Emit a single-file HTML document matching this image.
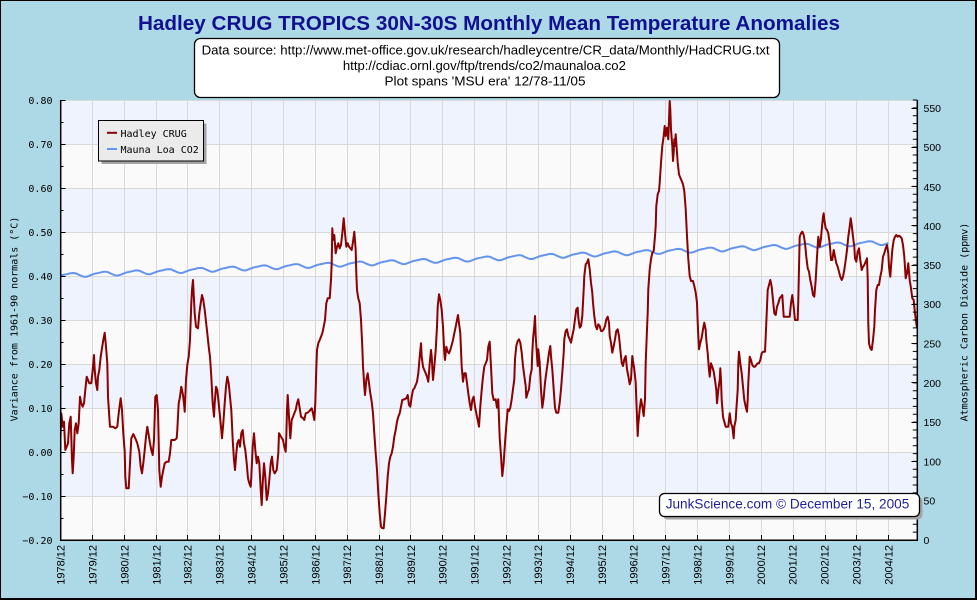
<!DOCTYPE html>
<html>
<head>
<meta charset="utf-8">
<style>
html,body{margin:0;padding:0;background:#add8e6;}
body{width:977px;height:600px;overflow:hidden;}
svg{display:block;}
.mono{font-family:"DejaVu Sans Mono","Liberation Mono",monospace;font-size:10px;fill:#000;}
.sans{font-family:"Liberation Sans",Arial,sans-serif;}
</style>
</head>
<body>
<svg width="977" height="600" viewBox="0 0 977 600" xmlns="http://www.w3.org/2000/svg">
<defs>
<clipPath id="plot"><rect x="60" y="99" width="857" height="441"/></clipPath>
</defs>
<!-- background & border -->
<rect x="0" y="0" width="977" height="600" fill="#add8e6"/>
<path d="M0.5,600 V0.5 H976" fill="none" stroke="#000" stroke-width="1"/>
<path d="M976,0 V599 H0" fill="none" stroke="#000" stroke-width="2"/>

<!-- title -->
<text class="sans" x="489" y="30" text-anchor="middle" font-size="20" font-weight="bold" fill="#101090" textLength="702" lengthAdjust="spacingAndGlyphs">Hadley CRUG TROPICS 30N-30S Monthly Mean Temperature Anomalies</text>

<!-- subtitle box -->
<rect x="194.5" y="38.5" width="585" height="59" rx="6" ry="6" fill="#fff" stroke="#000" stroke-width="1.3"/>
<text class="sans" x="485.6" y="54.5" text-anchor="middle" font-size="12.5" fill="#000" textLength="568" lengthAdjust="spacingAndGlyphs">Data source: http://www.met-office.gov.uk/research/hadleycentre/CR_data/Monthly/HadCRUG.txt</text>
<text class="sans" x="484.4" y="70" text-anchor="middle" font-size="12.5" fill="#000" textLength="283" lengthAdjust="spacingAndGlyphs">http://cdiac.ornl.gov/ftp/trends/co2/maunaloa.co2</text>
<text class="sans" x="485" y="85.5" text-anchor="middle" font-size="12.5" fill="#000" textLength="201" lengthAdjust="spacingAndGlyphs">Plot spans 'MSU era' 12/78-11/05</text>

<!-- plot bands -->
<rect x="60" y="100" width="857" height="440" fill="#fafafa"/>
<g fill="#eef3fd">
<rect x="60" y="100" width="857" height="44"/>
<rect x="60" y="188" width="857" height="44"/>
<rect x="60" y="276" width="857" height="44"/>
<rect x="60" y="364" width="857" height="44"/>
<rect x="60" y="452" width="857" height="44"/>
</g>
<!-- grid -->
<g stroke="#d9d9d9" stroke-width="1" fill="none">
<path d="M60,100.5H917M60,144.5H917M60,188.5H917M60,232.5H917M60,276.5H917M60,320.5H917M60,364.5H917M60,408.5H917M60,452.5H917M60,496.5H917"/>
<path d="M92.5,100V540M124.5,100V540M156.5,100V540M187.5,100V540M219.5,100V540M251.5,100V540M283.5,100V540M315.5,100V540M347.5,100V540M379.5,100V540M410.5,100V540M442.5,100V540M474.5,100V540M506.5,100V540M538.5,100V540M570.5,100V540M602.5,100V540M633.5,100V540M665.5,100V540M697.5,100V540M729.5,100V540M761.5,100V540M793.5,100V540M825.5,100V540M856.5,100V540M888.5,100V540"/>
</g>

<!-- CO2 series -->
<g clip-path="url(#plot)">
<path fill="none" stroke="#6495ed" stroke-width="2" stroke-linejoin="round" d="M60,276
l2.655,-0.97 2.655,-0.58 2.655,-0.5 2.655,-0.73 2.655,-0.26 2.655,0.37 2.655,1.31 2.655,1.15 2.655,0.99 2.655,-0.03 2.655,-0.97 2.655,-1.05
l2.655,-0.97 2.655,-0.58 2.655,-0.5 2.655,-0.73 2.655,-0.26 2.655,0.37 2.655,1.31 2.655,1.15 2.655,0.99 2.655,-0.03 2.655,-0.97 2.655,-1.05
l2.655,-0.97 2.655,-0.58 2.655,-0.5 2.655,-0.73 2.655,-0.26 2.655,0.37 2.655,1.31 2.655,1.15 2.655,0.99 2.655,-0.03 2.655,-0.97 2.655,-1.05
l2.655,-0.97 2.655,-0.58 2.655,-0.5 2.655,-0.73 2.655,-0.26 2.655,0.37 2.655,1.31 2.655,1.15 2.655,0.99 2.655,-0.03 2.655,-0.97 2.655,-1.05
l2.655,-0.97 2.655,-0.58 2.655,-0.5 2.655,-0.73 2.655,-0.26 2.655,0.37 2.655,1.31 2.655,1.15 2.655,0.99 2.655,-0.03 2.655,-0.97 2.655,-1.05
l2.655,-0.97 2.655,-0.58 2.655,-0.5 2.655,-0.73 2.655,-0.26 2.655,0.37 2.655,1.31 2.655,1.15 2.655,0.99 2.655,-0.03 2.655,-0.97 2.655,-1.05
l2.655,-0.97 2.655,-0.58 2.655,-0.5 2.655,-0.73 2.655,-0.26 2.655,0.37 2.655,1.31 2.655,1.15 2.655,0.99 2.655,-0.03 2.655,-0.97 2.655,-1.05
l2.655,-0.97 2.655,-0.58 2.655,-0.5 2.655,-0.73 2.655,-0.26 2.655,0.37 2.655,1.31 2.655,1.15 2.655,0.99 2.655,-0.03 2.655,-0.97 2.655,-1.05
l2.655,-0.97 2.655,-0.58 2.655,-0.5 2.655,-0.73 2.655,-0.26 2.655,0.37 2.655,1.31 2.655,1.15 2.655,0.99 2.655,-0.03 2.655,-0.97 2.655,-1.05
l2.655,-0.97 2.655,-0.58 2.655,-0.5 2.655,-0.73 2.655,-0.26 2.655,0.37 2.655,1.31 2.655,1.15 2.655,0.99 2.655,-0.03 2.655,-0.97 2.655,-1.05
l2.655,-0.97 2.655,-0.58 2.655,-0.5 2.655,-0.73 2.655,-0.26 2.655,0.37 2.655,1.31 2.655,1.15 2.655,0.99 2.655,-0.03 2.655,-0.97 2.655,-1.05
l2.655,-0.97 2.655,-0.58 2.655,-0.5 2.655,-0.73 2.655,-0.26 2.655,0.37 2.655,1.31 2.655,1.15 2.655,0.99 2.655,-0.03 2.655,-0.97 2.655,-1.05
l2.655,-0.97 2.655,-0.58 2.655,-0.5 2.655,-0.73 2.655,-0.26 2.655,0.37 2.655,1.31 2.655,1.15 2.655,0.99 2.655,-0.03 2.655,-0.97 2.655,-1.05
l2.655,-0.97 2.655,-0.58 2.655,-0.5 2.655,-0.73 2.655,-0.26 2.655,0.37 2.655,1.31 2.655,1.15 2.655,0.99 2.655,-0.03 2.655,-0.97 2.655,-1.05
l2.655,-0.97 2.655,-0.58 2.655,-0.5 2.655,-0.73 2.655,-0.26 2.655,0.37 2.655,1.31 2.655,1.15 2.655,0.99 2.655,-0.03 2.655,-0.97 2.655,-1.05
l2.655,-0.97 2.655,-0.58 2.655,-0.5 2.655,-0.73 2.655,-0.26 2.655,0.37 2.655,1.31 2.655,1.15 2.655,0.99 2.655,-0.03 2.655,-0.97 2.655,-1.05
l2.655,-0.97 2.655,-0.58 2.655,-0.5 2.655,-0.73 2.655,-0.26 2.655,0.37 2.655,1.31 2.655,1.15 2.655,0.99 2.655,-0.03 2.655,-0.97 2.655,-1.05
l2.655,-0.97 2.655,-0.58 2.655,-0.5 2.655,-0.73 2.655,-0.26 2.655,0.37 2.655,1.31 2.655,1.15 2.655,0.99 2.655,-0.03 2.655,-0.97 2.655,-1.05
l2.655,-0.97 2.655,-0.58 2.655,-0.5 2.655,-0.73 2.655,-0.26 2.655,0.37 2.655,1.31 2.655,1.15 2.655,0.99 2.655,-0.03 2.655,-0.97 2.655,-1.05
l2.655,-0.97 2.655,-0.58 2.655,-0.5 2.655,-0.73 2.655,-0.26 2.655,0.37 2.655,1.31 2.655,1.15 2.655,0.99 2.655,-0.03 2.655,-0.97 2.655,-1.05
l2.655,-0.97 2.655,-0.58 2.655,-0.5 2.655,-0.73 2.655,-0.26 2.655,0.37 2.655,1.31 2.655,1.15 2.655,0.99 2.655,-0.03 2.655,-0.97 2.655,-1.05
l2.655,-0.97 2.655,-0.58 2.655,-0.5 2.655,-0.73 2.655,-0.26 2.655,0.37 2.655,1.31 2.655,1.15 2.655,0.99 2.655,-0.03 2.655,-0.97 2.655,-1.05
l2.655,-0.97 2.655,-0.58 2.655,-0.5 2.655,-0.73 2.655,-0.26 2.655,0.37 2.655,1.31 2.655,1.15 2.655,0.99 2.655,-0.03 2.655,-0.97 2.655,-1.05
l2.655,-0.97 2.655,-0.58 2.655,-0.5 2.655,-0.73 2.655,-0.26 2.655,0.37 2.655,1.31 2.655,1.15 2.655,0.99 2.655,-0.03 2.655,-0.97 2.655,-1.05
l2.655,-0.97 2.655,-0.58 2.655,-0.5 2.655,-0.73 2.655,-0.26 2.655,0.37 2.655,1.31 2.655,1.15 2.655,0.99 2.655,-0.03 2.655,-0.97 2.655,-1.05
l2.655,-0.97 2.655,-0.58 2.655,-0.5 2.655,-0.73 2.655,-0.26 2.655,0.37 2.655,1.31 2.655,1.15 2.655,0.99 2.655,-0.03 2.655,-0.97 2.655,-1.05"/>

<!-- Hadley series -->
<polyline fill="none" stroke="#8b0000" stroke-width="2" stroke-linejoin="round" points="60,453 61.3,413.3 62.7,426.7 64,421.7 65.3,450 66.7,446.7 68,443.3 69.3,423.3 70.7,416.7 72,460 72.7,473.3 73.7,456.7 74.7,430 76,423.3 77.3,433.3 78.7,423.3 80,396.7 81.3,403.3 82.7,406.7 84,403.3 85.3,390 86.7,376.7 88,380 89.3,383.3 91.3,383.3 92.7,370 94,355 94.7,370 96,383.3 97.3,390 98,376.7 99.3,370 100.7,356.7 102,348.3 103.3,340 104.7,332.7 106,346.7 107.3,363.3 108,396.7 109.3,416.7 110,426.7 113,426.7 115.3,428.3 117.3,426.7 118.7,413.3 120,403.3 120.7,398.3 122,410 123.3,433.3 124.7,451.7 125.3,476.7 126.3,488.3 128.7,488.3 130,463.3 131.3,438.3 133.3,434 135.3,438.3 137.3,443.3 139.3,451.7 140.7,466.7 142,473.3 143.3,463.3 144.7,450 146,436.7 147.3,426.7 148.7,435 150,443.3 151.3,450 152.7,455 154,440 155.3,396.7 156.7,395 158,410 159.3,470 160.7,486.7 162,476.7 163.3,470 164.7,463.3 166.7,461.7 168.7,461.7 170,453.3 171.3,440 174.7,440 176.7,438.3 177.3,430 178.7,403.3 180,396.7 181.3,386.7 182.7,393.3 184,403.3 184.7,411.7 185.3,396.7 186,380 187.3,365 188.7,356.7 190,340 190.7,320 191.3,303.3 192,290 193,280 194,300 194.7,313.3 196,326.7 198,328.3 199.3,313.3 200.7,303.3 202,295 203.3,300 204.7,310 206,321.7 207.3,333.3 208.7,346.7 210,356.7 211.3,376.7 212.7,403.3 214,416.7 214.7,403.3 216,386.7 217.3,390 218.7,403.3 220,416.7 221.3,430 222,438.3 223.3,423.3 224.7,403.3 226,386.7 227.3,376.7 228.7,383.3 230,396.7 231.3,410 232.7,440 234,460 235,470 236.3,453.3 237.3,443.3 238.7,440 240,446.7 241.3,433.3 242.7,430 244,443.3 245.3,450 246.7,463.3 248,478.3 249.3,483.3 250.7,486.7 251.3,476.7 252.7,446.7 254,433.3 255.3,450 256.7,463.3 258,456.7 259.3,463.3 260.7,490 261.7,505 262.7,483.3 264,463.3 265.3,476.7 266.7,500 268,493.3 269.3,480 270.7,463.3 272,456.7 273.3,470 274.7,473.3 276.7,470 278.3,453.3 279,433.3 281,436.7 283,440 284.3,446.7 285.7,451.7 286.3,436.7 287,410 287.7,395 289,416.7 290.3,438.3 291.7,420 293,416.7 294.3,413.3 295.7,410 297,403.3 298.3,399.3 299.7,408.3 301,416.7 303,418.3 304.3,420 305.7,413.3 307.7,412.7 309.7,410.7 311.7,408.3 313,413.3 314.3,420 315.3,403.3 316.3,368.3 317,350 318.3,343.3 319.7,340 321,336.7 322.3,333.3 323.7,326.7 325,320 326.3,303.3 327.7,298.3 329.7,298.3 331,280 331.7,263.3 332.3,228.3 333,240 334.3,235 335.7,253.3 337,246.7 338.3,243.3 339.7,248.3 341,245 342.3,233.3 343.7,218.3 345,233.3 346.3,246.7 347.7,243.3 349,246.7 350.3,248.3 351.7,250 353,241.7 354.3,231.7 355.7,250 356.3,273.3 357,290 358.3,298.3 359.7,303.3 361,320 362.3,346.7 363,366.7 363.7,376.7 364.3,386.7 365,395 366.3,380 367.7,373.3 369,383.3 370.3,393.3 371.7,401.7 373,413.3 374.3,433.3 375.7,453.3 377,470 378.3,493.3 379.7,513.3 381,526.7 382.3,528.3 383.7,528.3 385,513.3 386.3,496.7 387.7,476.7 389,463.3 390.3,456.7 391.7,453.3 393,446.7 394.3,436.7 395.7,430 397,421.7 398.3,416.7 399.7,413.3 401,406.7 402.3,400 404.3,399.3 406.3,398.3 407.7,395 409,405 410.3,406.7 411.7,396.7 413,390 414.3,388.3 415.7,385 417,381.7 418.3,373.3 419.7,356.7 421,343.3 421.7,356.7 423,366.7 424.3,370 425.7,373.3 427,376.7 428.3,381.7 429.7,363.3 431,350 431.7,356.7 433,380 434.3,366.7 435.7,350 437,326.7 437.7,306.7 439,294.3 440.3,300 441.7,310 443,326.7 444.3,353.3 445,360 446.3,346.7 447.7,351.7 449,353.3 450.3,350 451.7,345 453,340 454.3,333.3 455.7,326.7 457,320 458,315 459,323.3 460.3,333.3 461.7,366.7 463,381.7 464.3,373.3 465.7,373.3 467,383.3 468.3,393.3 469.7,403.3 471,410 472.3,400 473.7,396.7 475,406.7 476.3,413.3 477.7,420 479,426.7 480.3,406.7 481.7,390 483,376.7 484.3,366.7 485.7,363.3 487,360 488.3,346.7 489.7,341.7 491,366.7 492.3,393.3 493.7,400 495.7,399.3 497,407.7 498.3,399.3 499,419.3 499.7,437.7 501,456 502.3,476 503.7,462.7 505,442.7 506.3,426 507.7,409.3 509,411 510.3,407.7 511.7,399.3 513,389.3 514.3,379.3 515,359.3 516.3,346 517.7,341 519,339.3 520.3,342.7 521.7,352.7 523,366 524.3,376 525.7,386 526.3,397.7 527.7,392.7 529,389.3 530.3,376 531.7,369.3 532.3,352.7 533,339.3 534.3,326 535,316 535.7,336 537,356 537.7,366 538.3,349.3 539.7,362.7 541,389.3 542.3,407.7 543.7,397.7 545,382.7 546.3,372.7 547.7,362.7 549,352.7 550.3,346 551,356 552.3,369.3 553.7,389.3 555,407.7 556.3,412.7 558.3,412.7 559.7,402.7 561,389.3 562.3,372.7 563.7,352.7 564.3,339.3 565.7,331 567,329.3 568.3,336 569.7,339.3 571,342.7 572.3,336 573.7,329.3 575,319.3 576.3,309.3 577.7,307.7 578.3,317.7 579.7,327.7 581,326 582.3,316 583.7,289.3 584.3,276 585.7,264.3 587,262.7 588.3,259.3 589.7,269.3 591,282.7 592.3,292.7 593,302.7 594.3,316 595.7,326 597,329.3 598.3,324.3 599.7,326 601,331 602.3,331 603.7,329.3 605,326 606.3,319.3 607.7,316.7 609,322.7 609.7,336 611,342.7 612.3,352.7 613.7,346 615,339.3 616.3,331 617.7,329.3 619,336 620.3,349.3 621.7,362.7 623,366 624.3,359.3 625.7,356 627,369.3 628.3,376 629.7,384.3 631,379.3 632.3,356 633,361 634.3,369.3 635.7,382.7 636.3,399.3 637.7,436 638.3,424.3 639.7,409.3 641,399.3 642.3,406 643.7,416 645,399.3 645.7,362.7 647,329.3 647.7,312.7 648.3,289.3 649.7,269.3 651,259.3 652.3,252.7 653.7,251 655,236 655.7,226 656.3,206 657.7,194.3 659,191 659.7,182.7 661,162.7 662.3,146 663.7,136 664.7,126 665.7,136 667,127.7 668.3,139.3 669.7,101 670.3,109.3 671,129.3 672.3,146 673,161 673.7,152.7 674.3,139.3 675,146 675.7,134.3 676.3,142.7 677.7,162.7 679,174.3 680.3,177.7 681.7,181 683,184.3 684.3,191 685.7,209.3 687,236 688.3,259.3 689.7,276 691,281 693,281 694.3,286 695.7,292.7 697,302.7 697.7,322.7 699,349.3 700.3,342.7 701.7,337.7 703,329.3 704.3,322.7 705.7,330 706.3,340 707.7,353.3 709,370 709.7,376.7 711,363.3 712.3,366.7 713.7,371.7 715,380 716.3,390 717,403.3 718.3,390 719.7,380 720.3,368.3 721,380 721.7,400 723,416.7 724.3,421.7 725.7,426.7 728.3,426.7 729.7,413.3 731,423.3 732.3,426.7 733.7,438.3 734.3,426.7 735.7,420 736.3,410 737.7,390 738.3,363.3 739,351.7 740.3,363.3 741.7,373.3 743,386.7 744.3,400 745.7,406.7 747,411.7 747.7,400 748.3,383.3 749.7,356.7 751,360 752.3,365 753.7,366.7 755,366.7 756.3,365 757.7,363.3 759,363.3 760.3,360 761.7,353.3 763,351.7 765,351.7 765.7,336.7 767,306.7 767.7,290 769,285 770.3,280 771.7,286.7 773,300 774.3,313.3 775.7,315 777,306.7 778.3,303.3 779.7,298.3 781,296.7 782.3,295 783.7,316.7 789.7,316.7 791,303.3 792.3,295 793.7,306.7 795,320 797.7,320 798.3,300 799.7,236.7 801,233.3 802.3,231.7 803.7,235 805,243.3 806.3,256.7 807.7,268.3 809,271.7 810.3,280 811.7,286.7 813,295 814.3,296.7 815.7,280 817,256.7 818.3,236.7 819.7,246.7 821,238.3 821.7,230 823,216.7 823.7,213.3 824.3,220 825.7,228.3 827,230 828.3,233.3 829.7,243.3 831,260 832.3,260 833.7,250 835,256.7 836.3,263.3 837.7,266.7 839,271.7 840.3,276.7 841.7,280 843,276.7 844.3,270 845.7,260 847,250 848.3,236.7 849.7,226.7 850.7,218.3 851.7,225 853,236.7 854.3,246.7 855,258.3 856.3,261.7 857.7,251.7 859,248.3 860.3,260 861.7,270 863,266.7 864.3,265 865.7,261.7 867,258.3 867.7,278.3 868.3,323.3 869,343.3 870.3,348.3 871.7,350 873,340 874.3,326.7 875,310 876.3,290 877.7,285 879,285 880.3,276.7 881.7,270 883,256.7 884.3,253.3 885.7,248.3 887,245 888.3,253.3 889,266.7 890.3,276.7 891,266.7 892.3,250 893.7,240 895,236.7 896.3,235 897.7,236.7 899,235.7 900.3,236.7 901.7,238.3 903,245 904.3,256.7 905.7,278.3 907,273.3 908.3,263.3 909.7,280 911,288.3 912.3,298.3 913.7,300 915,313.3 916.3,323.3 917,328"/>
</g>

<!-- axes -->
<g stroke="#000" fill="none">
<path d="M60.7,100V540.7" stroke-width="1.5"/>
<path d="M60,540.2H918" stroke-width="1.5"/>
<path d="M917.3,100V540.7" stroke-width="1.5"/>
<!-- left ticks -->
<path stroke-width="1" d="M60,100.5H65.5M60,144.5H65.5M60,188.5H65.5M60,232.5H65.5M60,276.5H65.5M60,320.5H65.5M60,364.5H65.5M60,408.5H65.5M60,452.5H65.5M60,496.5H65.5M60,122.5H63.5M60,166.5H63.5M60,210.5H63.5M60,254.5H63.5M60,298.5H63.5M60,342.5H63.5M60,386.5H63.5M60,430.5H63.5M60,474.5H63.5M60,518.5H63.5"/>
<!-- right ticks -->
<line x1="915" y1="540.5" x2="915" y2="99" stroke-width="4.4" stroke-dasharray="1 6.857"/>
<path stroke-width="1" d="M911.5,108.5H917M911.5,147.5H917M911.5,186.5H917M911.5,225.5H917M911.5,265.5H917M911.5,304.5H917M911.5,343.5H917M911.5,382.5H917M911.5,422.5H917M911.5,461.5H917M911.5,500.5H917"/>
<!-- bottom ticks -->
<path stroke-width="1" d="M92.5,535V540M124.5,535V540M156.5,535V540M187.5,535V540M219.5,535V540M251.5,535V540M283.5,535V540M315.5,535V540M347.5,535V540M379.5,535V540M410.5,535V540M442.5,535V540M474.5,535V540M506.5,535V540M538.5,535V540M570.5,535V540M602.5,535V540M633.5,535V540M665.5,535V540M697.5,535V540M729.5,535V540M761.5,535V540M793.5,535V540M825.5,535V540M856.5,535V540M888.5,535V540"/>
</g>

<!-- left tick labels -->
<g class="mono" text-anchor="end">
<text x="52.5" y="104">0.80</text>
<text x="52.5" y="148">0.70</text>
<text x="52.5" y="192">0.60</text>
<text x="52.5" y="236">0.50</text>
<text x="52.5" y="280">0.40</text>
<text x="52.5" y="324">0.30</text>
<text x="52.5" y="368">0.20</text>
<text x="52.5" y="412">0.10</text>
<text x="52.5" y="456">0.00</text>
<text x="52.5" y="500">−0.10</text>
<text x="52.5" y="544">−0.20</text>
</g>
<!-- right tick labels -->
<g class="sans" font-size="10.5" fill="#000">
<text x="923.5" y="112">550</text>
<text x="923.5" y="151">500</text>
<text x="923.5" y="191">450</text>
<text x="923.5" y="230">400</text>
<text x="923.5" y="269">350</text>
<text x="923.5" y="308">300</text>
<text x="923.5" y="347.5">250</text>
<text x="923.5" y="387">200</text>
<text x="923.5" y="426">150</text>
<text x="923.5" y="465.5">100</text>
<text x="923.5" y="504.5">50</text>
<text x="923.5" y="544">0</text>
</g>

<!-- axis titles -->
<text class="mono" transform="translate(17.5,319) rotate(-90)" text-anchor="middle">Variance from 1961-90 normals (°C)</text>
<text class="mono" transform="translate(967.5,322) rotate(-90)" text-anchor="middle">Atmospheric Carbon Dioxide (ppmv)</text>

<!-- x labels -->
<g class="sans" font-size="11" fill="#000" text-anchor="end">
<text transform="translate(64.3,545) rotate(-90)">1978/12</text>
<text transform="translate(96.3,545) rotate(-90)">1979/12</text>
<text transform="translate(128.3,545) rotate(-90)">1980/12</text>
<text transform="translate(160.3,545) rotate(-90)">1981/12</text>
<text transform="translate(191.7,545) rotate(-90)">1982/12</text>
<text transform="translate(223.3,545) rotate(-90)">1983/12</text>
<text transform="translate(255.3,545) rotate(-90)">1984/12</text>
<text transform="translate(287.3,545) rotate(-90)">1985/12</text>
<text transform="translate(319.3,545) rotate(-90)">1986/12</text>
<text transform="translate(351.2,545) rotate(-90)">1987/12</text>
<text transform="translate(383,545) rotate(-90)">1988/12</text>
<text transform="translate(414.8,545) rotate(-90)">1989/12</text>
<text transform="translate(446.7,545) rotate(-90)">1990/12</text>
<text transform="translate(478.5,545) rotate(-90)">1991/12</text>
<text transform="translate(510.4,545) rotate(-90)">1992/12</text>
<text transform="translate(542.2,545) rotate(-90)">1993/12</text>
<text transform="translate(574,545) rotate(-90)">1994/12</text>
<text transform="translate(605.9,545) rotate(-90)">1995/12</text>
<text transform="translate(637.7,545) rotate(-90)">1996/12</text>
<text transform="translate(669.6,545) rotate(-90)">1997/12</text>
<text transform="translate(701.3,545) rotate(-90)">1998/12</text>
<text transform="translate(733.3,545) rotate(-90)">1999/12</text>
<text transform="translate(765,545) rotate(-90)">2000/12</text>
<text transform="translate(796.5,545) rotate(-90)">2001/12</text>
<text transform="translate(828.3,545) rotate(-90)">2002/12</text>
<text transform="translate(860.4,545) rotate(-90)">2003/12</text>
<text transform="translate(892.3,545) rotate(-90)">2004/12</text>
</g>

<!-- legend -->
<rect x="101.5" y="123.5" width="105" height="40.5" fill="#a3a3a3"/>
<rect x="98.5" y="120.5" width="105" height="40.5" fill="#ebebeb" stroke="#000" stroke-width="1"/>
<line x1="107" y1="132.8" x2="117" y2="132.8" stroke="#8b0000" stroke-width="2"/>
<line x1="107" y1="149" x2="117" y2="149" stroke="#6495ed" stroke-width="2"/>
<text class="mono" x="120.5" y="136.8">Hadley CRUG</text>
<text class="mono" x="120.5" y="153">Mauna Loa CO2</text>

<!-- credit box -->
<rect x="662.5" y="496.5" width="260" height="23" rx="5" ry="5" fill="#a3a3a3"/>
<rect x="659.5" y="493.5" width="260" height="23" rx="5" ry="5" fill="#fff" stroke="#000" stroke-width="1.3"/>
<text class="sans" x="665.7" y="508.5" font-size="14" fill="#1f1f99" textLength="243.6" lengthAdjust="spacingAndGlyphs">JunkScience.com © December 15, 2005</text>
</svg>
</body>
</html>
